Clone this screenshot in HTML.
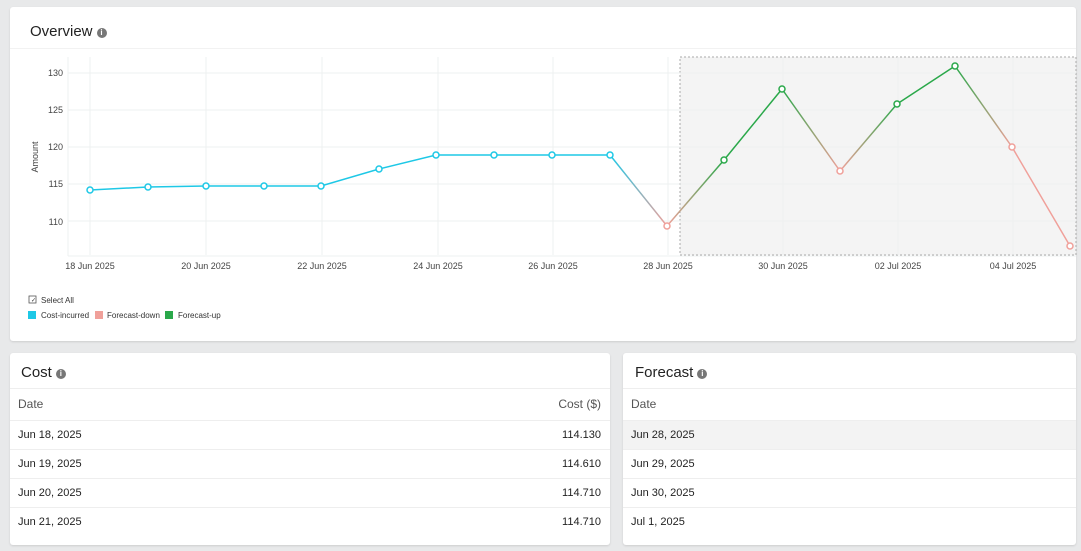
<!DOCTYPE html>
<html><head><style>
body{margin:0;width:1081px;height:551px;background:#e8e9ea;font-family:"Liberation Sans",sans-serif;position:relative;overflow:hidden}
.card{position:absolute;background:#fff;border-radius:3px;box-shadow:0 1px 2px rgba(0,0,0,.12)}
.t{position:absolute;font-size:15px;color:#222}
.i{display:inline-block;width:10px;height:10px;border-radius:50%;background:#777;color:#fff;font-size:8px;text-align:center;line-height:10px;vertical-align:1px;margin-left:4px;font-weight:bold}
.row{position:absolute;left:0;right:0;height:29px;border-top:1px solid #eee;font-size:11px;color:#222;line-height:29px}
.row span{position:absolute}
</style></head><body>
<div class="card" style="left:10px;top:7px;width:1066px;height:334px">
<div class="t" style="left:20px;top:16px">Overview<span class="i">i</span></div>
<div style="position:absolute;left:0;right:0;top:41px;border-top:1px solid #f2f2f2"></div>
</div>
<svg style="position:absolute;left:0;top:0" width="1081" height="341">
<defs>
<linearGradient id="g1" gradientUnits="userSpaceOnUse" x1="610" y1="0" x2="667" y2="0"><stop offset="0" stop-color="#1ec8e6"/><stop offset="1" stop-color="#f0a09a"/></linearGradient>
<linearGradient id="g2" gradientUnits="userSpaceOnUse" x1="667" y1="0" x2="724" y2="0"><stop offset="0" stop-color="#f0a09a"/><stop offset="1" stop-color="#2aa84a"/></linearGradient>
<linearGradient id="g3" gradientUnits="userSpaceOnUse" x1="782" y1="0" x2="840" y2="0"><stop offset="0" stop-color="#2aa84a"/><stop offset="1" stop-color="#f0a09a"/></linearGradient>
<linearGradient id="g4" gradientUnits="userSpaceOnUse" x1="840" y1="0" x2="897" y2="0"><stop offset="0" stop-color="#f0a09a"/><stop offset="1" stop-color="#2aa84a"/></linearGradient>
<linearGradient id="g5" gradientUnits="userSpaceOnUse" x1="955" y1="0" x2="1012" y2="0"><stop offset="0" stop-color="#2aa84a"/><stop offset="1" stop-color="#f0a09a"/></linearGradient>
</defs>
<rect x="680" y="57" width="396" height="198" fill="#f4f4f4" stroke="#aaa" stroke-dasharray="2,2"/>
<g stroke="#eef0f0" stroke-width="1">
<line x1="68" y1="73" x2="1076" y2="73"/><line x1="68" y1="110" x2="1076" y2="110"/><line x1="68" y1="147" x2="1076" y2="147"/><line x1="68" y1="184" x2="1076" y2="184"/><line x1="68" y1="221" x2="1076" y2="221"/>
<line x1="90" y1="57" x2="90" y2="255"/><line x1="206" y1="57" x2="206" y2="255"/><line x1="322" y1="57" x2="322" y2="255"/><line x1="438" y1="57" x2="438" y2="255"/><line x1="553" y1="57" x2="553" y2="255"/><line x1="668" y1="57" x2="668" y2="255"/><line x1="783" y1="57" x2="783" y2="255"/><line x1="898" y1="57" x2="898" y2="255"/><line x1="1013" y1="57" x2="1013" y2="255"/>
<line x1="68" y1="57" x2="68" y2="256"/><line x1="68" y1="256" x2="1076" y2="256"/>
</g>
<g font-size="9" fill="#444" text-anchor="end"><text x="63" y="76">130</text><text x="63" y="113">125</text><text x="63" y="150">120</text><text x="63" y="187">115</text><text x="63" y="225">110</text></g>
<text x="38" y="157" font-size="9" fill="#444" text-anchor="middle" transform="rotate(-90 38 157)">Amount</text>
<g font-size="9" fill="#444" text-anchor="middle"><text x="90" y="269">18 Jun 2025</text><text x="206" y="269">20 Jun 2025</text><text x="322" y="269">22 Jun 2025</text><text x="438" y="269">24 Jun 2025</text><text x="553" y="269">26 Jun 2025</text><text x="668" y="269">28 Jun 2025</text><text x="783" y="269">30 Jun 2025</text><text x="898" y="269">02 Jul 2025</text><text x="1013" y="269">04 Jul 2025</text></g>
<g fill="none" stroke-width="1.5">
<polyline stroke="#1ec8e6" points="90,190 148,187 206,186 264,186 321,186 379,169 436,155 494,155 552,155 610,155"/>
<line stroke="url(#g1)" x1="610" y1="155" x2="667" y2="226"/>
<line stroke="url(#g2)" x1="667" y1="226" x2="724" y2="160"/>
<line stroke="#2aa84a" x1="724" y1="160" x2="782" y2="89"/>
<line stroke="url(#g3)" x1="782" y1="89" x2="840" y2="171"/>
<line stroke="url(#g4)" x1="840" y1="171" x2="897" y2="104"/>
<line stroke="#2aa84a" x1="897" y1="104" x2="955" y2="66"/>
<line stroke="url(#g5)" x1="955" y1="66" x2="1012" y2="147"/>
<line stroke="#f0a09a" x1="1012" y1="147" x2="1070" y2="246"/>
</g>
<g fill="#fff" stroke-width="1.5">
<g stroke="#1ec8e6"><circle cx="90" cy="190" r="3"/><circle cx="148" cy="187" r="3"/><circle cx="206" cy="186" r="3"/><circle cx="264" cy="186" r="3"/><circle cx="321" cy="186" r="3"/><circle cx="379" cy="169" r="3"/><circle cx="436" cy="155" r="3"/><circle cx="494" cy="155" r="3"/><circle cx="552" cy="155" r="3"/><circle cx="610" cy="155" r="3"/></g>
<g stroke="#f0a09a"><circle cx="667" cy="226" r="3"/><circle cx="840" cy="171" r="3"/><circle cx="1012" cy="147" r="3"/><circle cx="1070" cy="246" r="3"/></g>
<g stroke="#2aa84a"><circle cx="724" cy="160" r="3"/><circle cx="782" cy="89" r="3"/><circle cx="897" cy="104" r="3"/><circle cx="955" cy="66" r="3"/></g>
</g>
<g font-size="8" fill="#333">
<rect x="29" y="296" width="7" height="7" fill="none" stroke="#555" stroke-width=".8"/><text x="31" y="302" font-size="6">✓</text><text x="41" y="303">Select All</text>
<rect x="28" y="311" width="8" height="8" fill="#1ec8e6"/><text x="41" y="318">Cost-incurred</text>
<rect x="95" y="311" width="8" height="8" fill="#f0a09a"/><text x="107" y="318">Forecast-down</text>
<rect x="165" y="311" width="8" height="8" fill="#2aa84a"/><text x="178" y="318">Forecast-up</text>
</g>
</svg>
<div class="card" style="left:10px;top:353px;width:600px;height:192px">
<div class="t" style="left:11px;top:11px">Cost<span class="i">i</span></div>
<div class="row" style="top:35px;color:#555;font-size:12px;height:31px;line-height:31px"><span style="left:8px">Date</span><span style="right:9px">Cost ($)</span></div>
<div class="row" style="top:67px"><span style="left:8px">Jun 18, 2025</span><span style="right:9px">114.130</span></div>
<div class="row" style="top:96px"><span style="left:8px">Jun 19, 2025</span><span style="right:9px">114.610</span></div>
<div class="row" style="top:125px"><span style="left:8px">Jun 20, 2025</span><span style="right:9px">114.710</span></div>
<div class="row" style="top:154px"><span style="left:8px">Jun 21, 2025</span><span style="right:9px">114.710</span></div>
</div>
<div class="card" style="left:623px;top:353px;width:453px;height:192px">
<div class="t" style="left:12px;top:11px">Forecast<span class="i">i</span></div>
<div class="row" style="top:35px;color:#555;font-size:12px;height:31px;line-height:31px"><span style="left:8px">Date</span></div>
<div class="row" style="top:67px;background:#f3f3f3"><span style="left:8px">Jun 28, 2025</span></div>
<div class="row" style="top:96px"><span style="left:8px">Jun 29, 2025</span></div>
<div class="row" style="top:125px"><span style="left:8px">Jun 30, 2025</span></div>
<div class="row" style="top:154px"><span style="left:8px">Jul 1, 2025</span></div>
</div>
</body></html>
